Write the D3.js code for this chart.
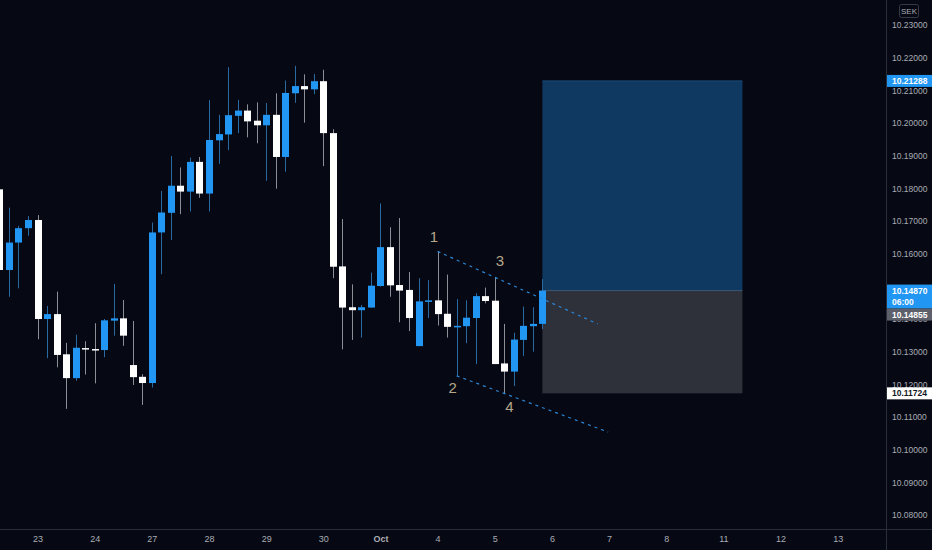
<html>
<head>
  <script src="https://d3js.org/d3.v7.min.js"></script>
  <style>
    body { margin: 0; padding: 0; background: #060913; overflow: hidden; }
    svg { display: block; font-family: "Liberation Sans", "DejaVu Sans", sans-serif; }
    .tick text { fill: #a9acb5; }
  </style>
</head>
<body>
<div id="chart"></div>
<script>
// 4h candles, 6 per day; index 0 is the last visible bars of Sep 22
const opens  = [10.1797, 10.1550, 10.1634, 10.1678, 10.1703, 10.1400, 10.1415, 10.1292, 10.1219, 10.1311,
                10.1308, 10.1305, 10.1395, 10.1402, 10.1259, 10.1223, 10.1204, 10.1665, 10.1725, 10.1808,
                10.1790, 10.1881, 10.1784, 10.1947, 10.1965, 10.2022, 10.2038, 10.2007, 10.1993, 10.2025,
                10.1896, 10.2091, 10.2113, 10.2103, 10.2128, 10.1969, 10.1561, 10.1436, 10.1427, 10.1435,
                10.1501, 10.1620, 10.1504, 10.1489, 10.1317, 10.1454, 10.1457, 10.1416, 10.1376, 10.1378,
                10.1403, 10.1470, 10.1456, 10.1264, 10.1239, 10.1336, 10.1378, 10.1385];
const highs  = [10.1815, 10.1741, 10.1685, 10.1715, 10.1718, 10.1440, 10.1484, 10.1327, 10.1352, 10.1332,
                10.1387, 10.1400, 10.1507, 10.1458, 10.1394, 10.1231, 10.1695, 10.1792, 10.1899, 10.1864,
                10.1894, 10.1896, 10.2070, 10.2025, 10.2171, 10.2071, 10.2057, 10.2063, 10.2061, 10.2091,
                10.2130, 10.2175, 10.2149, 10.2150, 10.2163, 10.1981, 10.1706, 10.1506, 10.1443, 10.1542,
                10.1754, 10.1681, 10.1709, 10.1544, 10.1525, 10.1519, 10.1607, 10.1536, 10.1461, 10.1457,
                10.1479, 10.1496, 10.1528, 10.1385, 10.1358, 10.1438, 10.1436, 10.1522];
const lows   = [10.1545, 10.1468, 10.1494, 10.1655, 10.1338, 10.1280, 10.1252, 10.1125, 10.1211, 10.1230,
                10.1203, 10.1283, 10.1349, 10.1318, 10.1198, 10.1137, 10.1190, 10.1537, 10.1642, 10.1721,
                10.1729, 10.1771, 10.1729, 10.1875, 10.1917, 10.1969, 10.1956, 10.1938, 10.1823, 10.1799,
                10.1851, 10.2062, 10.2001, 10.2088, 10.1868, 10.1525, 10.1307, 10.1336, 10.1343, 10.1435,
                10.1499, 10.1468, 10.1390, 10.1363, 10.1317, 10.1403, 10.1380, 10.1343, 10.1226, 10.1326,
                10.1262, 10.1448, 10.1262, 10.1172, 10.1195, 10.1287, 10.1300, 10.1369];
const closes = [10.1550, 10.1634, 10.1678, 10.1703, 10.1400, 10.1415, 10.1290, 10.1219, 10.1312, 10.1307,
                10.1304, 10.1396, 10.1402, 10.1349, 10.1222, 10.1204, 10.1665, 10.1726, 10.1808, 10.1790,
                10.1881, 10.1784, 10.1948, 10.1966, 10.2024, 10.2038, 10.2005, 10.1993, 10.2025, 10.1896,
                10.2092, 10.2113, 10.2103, 10.2128, 10.1969, 10.1560, 10.1435, 10.1427, 10.1436, 10.1502,
                10.1620, 10.1503, 10.1487, 10.1403, 10.1454, 10.1457, 10.1415, 10.1376, 10.1379, 10.1404,
                10.1470, 10.1455, 10.1262, 10.1239, 10.1337, 10.1379, 10.1385, 10.1487];

// x-axis day labels and the bar index where each day starts
const dayLabels = ["23", "24", "27", "28", "29", "30", "Oct", "4", "5", "6", "7", "8", "11", "12", "13"];
const dayIndex  = [4, 10, 16, 22, 28, 34, 40, 46, 52, 58, 64, 70, 76, 82, 88];

// 10.15 sits fully under the entry tag, so it is left out
const priceTicks = [10.08, 10.09, 10.10, 10.11, 10.12, 10.13, 10.14, 10.16, 10.17, 10.18, 10.19, 10.20, 10.21, 10.22, 10.23];

// long position tool
const entryPrice = 10.14870;
const targetPrice = 10.21288;
const stopPrice = 10.11724;
const positionFrom = 57, positionTo = 78;
const lastPrice = 10.14855;

// dashed channel lines [index, price]
const upperLine = [[46, 10.1607], [62.8, 10.1385]];
const lowerLine = [[48, 10.1226], [63.9, 10.1054]];

// wave labels
const waveText  = ["1", "3", "2", "4"];
const waveIdx   = [45.62, 52.55, 47.59, 53.53];
const wavePrice = [10.1654, 10.1579, 10.1191, 10.1132];

const W = 932, H = 550;
const plotRight = 886, plotBottom = 529;
const bg = "#060913", up = "#2196f3", down = "#ffffff";
const axisFont = "8.5px";

const x = d3.scaleLinear().domain([0, 88]).range([-0.6, 837.7]);
const y = d3.scaleLinear().domain([10.08, 10.23]).range([515, 25]);

const svg = d3.select("#chart").append("svg").attr("width", W).attr("height", H);
svg.append("rect").attr("width", W).attr("height", H).attr("fill", bg);

svg.append("defs").append("clipPath").attr("id", "plot")
  .append("rect").attr("x", 0).attr("y", 0).attr("width", plotRight).attr("height", plotBottom);

const plot = svg.append("g").attr("clip-path", "url(#plot)");

// position boxes
const bx = x(positionFrom), bw = x(positionTo) - x(positionFrom);
plot.append("rect").attr("x", bx).attr("y", y(targetPrice)).attr("width", bw)
  .attr("height", y(entryPrice) - y(targetPrice)).attr("fill", "#0f3961");
plot.append("rect").attr("x", bx).attr("y", y(entryPrice)).attr("width", bw)
  .attr("height", y(stopPrice) - y(entryPrice)).attr("fill", "#2e303a");
plot.append("line").attr("x1", bx).attr("x2", bx + bw).attr("y1", y(targetPrice)).attr("y2", y(targetPrice))
  .attr("stroke", "#1b4a76").attr("stroke-width", 1);
plot.append("line").attr("x1", bx).attr("x2", bx + bw).attr("y1", y(entryPrice)).attr("y2", y(entryPrice))
  .attr("stroke", "#3b5877").attr("stroke-width", 1);

// candles
const bars = d3.range(opens.length).map(i => ({ i, o: opens[i], h: highs[i], l: lows[i], c: closes[i] }));
const bodyW = 7;

plot.selectAll(".wick").data(bars).enter().append("line")
  .attr("x1", d => Math.round(x(d.i)) + 0.5).attr("x2", d => Math.round(x(d.i)) + 0.5)
  .attr("y1", d => y(d.h)).attr("y2", d => y(d.l))
  .attr("stroke", d => d.c >= d.o ? "#2a6aa3" : "#8c8f96").attr("stroke-width", 1);

plot.selectAll(".body").data(bars).enter().append("rect")
  .attr("x", d => Math.round(x(d.i)) + 0.5 - bodyW / 2)
  .attr("y", d => y(Math.max(d.o, d.c)))
  .attr("width", bodyW)
  .attr("height", d => Math.max(1.5, Math.abs(y(d.o) - y(d.c))))
  .attr("fill", d => d.c >= d.o ? up : down);

// dashed channel
const line = d3.line().x(d => x(d[0])).y(d => y(d[1]));
[upperLine, lowerLine].forEach(pts => {
  plot.append("path").attr("d", line(pts)).attr("fill", "none")
    .attr("stroke", "#2a86d6").attr("stroke-width", 1.2).attr("stroke-dasharray", "3,4");
});

// wave labels
plot.selectAll(".wave").data(waveText).enter().append("text")
  .attr("x", (d, i) => x(waveIdx[i])).attr("y", (d, i) => y(wavePrice[i]))
  .attr("text-anchor", "middle").attr("dominant-baseline", "central")
  .attr("fill", "#b5a68a").style("font-size", "15px")
  .text(d => d);

// axis borders
svg.append("line").attr("x1", plotRight + 0.5).attr("x2", plotRight + 0.5).attr("y1", 0).attr("y2", H)
  .attr("stroke", "#2a2e39");
svg.append("line").attr("x1", 0).attr("x2", W).attr("y1", plotBottom + 0.5).attr("y2", plotBottom + 0.5)
  .attr("stroke", "#2a2e39");

const yAxis = svg.append("g").attr("transform", `translate(${plotRight + 6},0)`)
  .call(d3.axisRight(y).tickValues(priceTicks).tickFormat(d3.format(".5f")).tickSize(0).tickPadding(0));
yAxis.select(".domain").remove();
yAxis.selectAll("text").style("font-size", axisFont);

const xAxis = svg.append("g").attr("transform", `translate(0,${plotBottom})`)
  .call(d3.axisBottom(x).tickValues(dayIndex).tickFormat((d, i) => dayLabels[i]).tickSize(0).tickPadding(7));
xAxis.select(".domain").remove();
xAxis.selectAll("text").style("font-size", "9px")
  .attr("fill", (d, i) => dayLabels[i] === "Oct" ? "#d1d4dc" : "#a9acb5")
  .style("font-weight", (d, i) => dayLabels[i] === "Oct" ? "bold" : "normal");

// currency badge
svg.append("rect").attr("x", 899.5).attr("y", 4.5).attr("width", 19).attr("height", 13).attr("rx", 2)
  .attr("fill", "none").attr("stroke", "#363a45");
svg.append("text").attr("x", 909).attr("y", 11).attr("text-anchor", "middle").attr("dominant-baseline", "central")
  .attr("fill", "#a9acb5").style("font-size", "8px").text("SEK");

// price tags on the axis
function priceTag(top, h, fill, color, lines) {
  svg.append("rect").attr("x", plotRight + 1).attr("y", top).attr("width", W - plotRight - 1).attr("height", h)
    .attr("fill", fill);
  lines.forEach((t, k) => {
    svg.append("text").attr("x", plotRight + 6).attr("y", top + 6 + k * 11.5).attr("dominant-baseline", "central")
      .attr("fill", color).style("font-size", axisFont).style("font-weight", "bold").text(t);
  });
}
const fmt = d3.format(".5f");
priceTag(y(targetPrice) - 6, 12, up, "#ffffff", [fmt(targetPrice)]);
priceTag(y(stopPrice) - 6, 12, "#ffffff", "#131722", [fmt(stopPrice)]);
priceTag(y(entryPrice) - 6, 24, up, "#ffffff", [fmt(entryPrice), "06:00"]);
// last price tag sits directly under the countdown tag
priceTag(y(entryPrice) + 18, 12, "#5d606b", "#ffffff", [fmt(lastPrice)]);
</script>
</body>
</html>
